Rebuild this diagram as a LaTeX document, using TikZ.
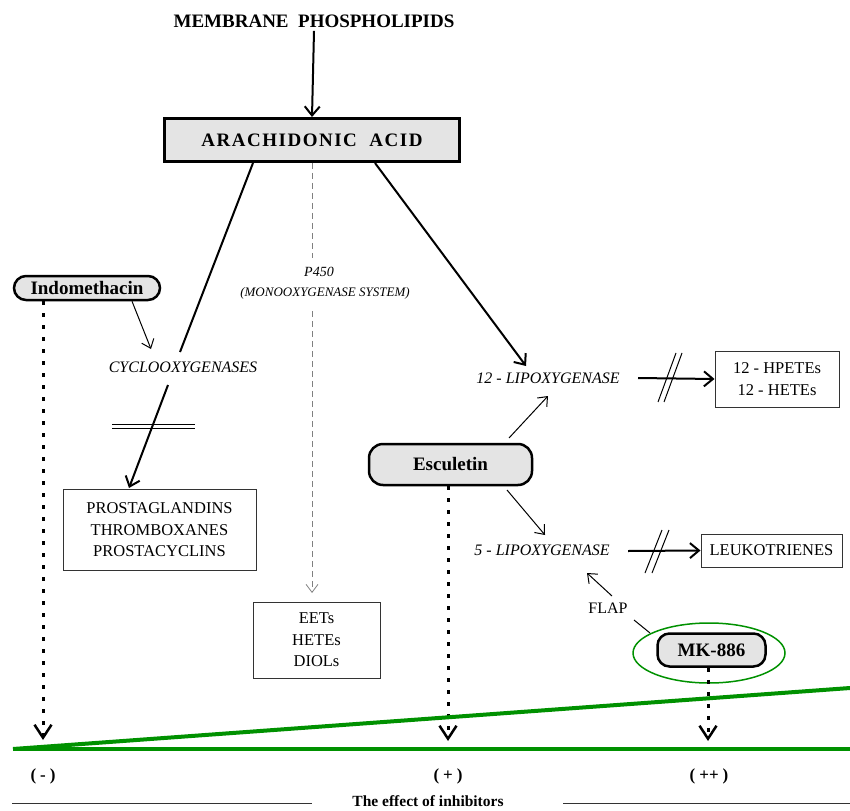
\documentclass[tikz,border=0pt]{standalone}
\usepackage{fontspec}
\setmainfont{Liberation Serif}
\usetikzlibrary{arrows.meta,shapes.geometric}
\definecolor{grn}{RGB}{0,145,0}
\definecolor{boxfill}{RGB}{228,228,228}
\begin{document}
\begin{tikzpicture}[x=1pt,y=-1pt,
  bfont/.style={font=\bfseries\fontsize{19}{22}\selectfont},
  rfont/.style={font=\fontsize{16.5}{21.5}\selectfont},
  ifont/.style={font=\itshape\fontsize{16}{20}\selectfont},
  prodbox/.style={draw=black!80, line width=1pt, rfont, align=center, inner sep=0pt},
  inhib/.style={draw, line width=2.5pt, fill=boxfill, rounded corners=12pt, bfont, inner sep=0pt},
  thickline/.style={line width=2pt},
  thickarrow/.style={line width=2pt, -{Straight Barb[length=9pt,width=15pt]}},
  thinarrow/.style={line width=1pt, -{Straight Barb[length=8pt,width=13pt]}},
  dotline/.style={line width=3pt, dash pattern=on 4pt off 8pt, -{Straight Barb[length=13pt,width=17pt,line width=2.5pt]}},
  dashline/.style={gray, line width=0.8pt, dash pattern=on 6pt off 4pt},
  breakmark/.style={line width=1pt},
  greenline/.style={grn, line width=4pt},
  lbl/.style={font=\bfseries\fontsize{17}{20}\selectfont},
  efflbl/.style={font=\bfseries\fontsize{15.5}{18}\selectfont}
]
\useasboundingbox (0,0) rectangle (850,810);

% top
\node[bfont] (mp) at (314,21) {MEMBRANE\ \ PHOSPHOLIPIDS};
\node[draw, line width=3pt, fill=boxfill, minimum width=295pt, minimum height=43pt, inner sep=0pt,
      font=\bfseries\fontsize{19}{22}\selectfont\addfontfeature{LetterSpace=8}] (aa) at (312,140) {ARACHIDONIC\ \ ACID};
\draw[thickarrow] (mp.south) -- (aa.north);

% P450 branch
\node[font=\itshape\fontsize{14}{16}\selectfont] (p450) at (319,272) {P450};
\node[font=\itshape\fontsize{13}{15}\selectfont] (mono) at (325,293) {(MONOOXYGENASE SYSTEM)};
\node[prodbox, minimum width=127pt, minimum height=76pt] (eets) at (316.5,640) {EETs\\HETEs\\DIOLs};
\coordinate (d1) at (312,258);
\coordinate (d2) at (312,311);
\coordinate (d3) at (312,593);
\draw[dashline] (aa.south) -- (d1);
\draw[dashline, -{Straight Barb[length=8pt,width=12pt]}] (d2) -- (d3);

% cyclooxygenase branch
\node[ifont] (cox) at (183,367) {CYCLOOXYGENASES};
\node[prodbox, minimum width=193pt, minimum height=81pt] (pg) at (159.5,530) {PROSTAGLANDINS\\THROMBOXANES\\PROSTACYCLINS};
\coordinate (c2) at (180,352);
\coordinate (c3) at (168,385);
\coordinate (c4) at (129,488);
\draw[thickline] ([xshift=-59pt]aa.south) -- (c2);
\draw[thickarrow] (c3) -- (c4);
\coordinate (b1) at (112,424);
\coordinate (b2) at (195,424);
\coordinate (b3) at (112,428);
\coordinate (b4) at (195,428);
\draw[breakmark] (b1) -- (b2);
\draw[breakmark] (b3) -- (b4);

% Indomethacin
\node[inhib, minimum width=146pt, minimum height=24pt] (indo) at (87,288) {Indomethacin};
\coordinate (i1) at (151,349);
\draw[thinarrow] ([xshift=45pt]indo.south) -- (i1);
\coordinate (m1) at (43,740);
\draw[dotline] ([xshift=-44pt]indo.south) -- (m1);

% 12-lipoxygenase branch
\node[ifont] (lox12) at (548,378) {12 - LIPOXYGENASE};
\node[prodbox, minimum width=124pt, minimum height=56pt, font=\fontsize{16.5}{22}\selectfont] (hp) at (777,379) {12 - HPETEs\\12 - HETEs};
\coordinate (l1) at (526,366);
\draw[thickarrow] ([xshift=63pt]aa.south) -- (l1);
\coordinate (h0) at (638,378);
\draw[thickarrow] (h0) -- (hp.west);
\coordinate (k1) at (658,402);
\coordinate (k2) at (676,353);
\coordinate (k3) at (664,402);
\coordinate (k4) at (682,353);
\draw[breakmark] (k1) -- (k2);
\draw[breakmark] (k3) -- (k4);

% Esculetin
\node[inhib, minimum width=163pt, minimum height=41pt, rounded corners=14pt] (esc) at (450.5,464.5) {Esculetin};
\coordinate (e1) at (509,438);
\coordinate (e2) at (548,396);
\coordinate (e3) at (507,490);
\coordinate (e4) at (545,535);
\draw[thinarrow] (e1) -- (e2);
\draw[thinarrow] (e3) -- (e4);
\coordinate (m2) at (448,741);
\draw[dotline] (esc.south -| m2) -- (m2);

% 5-lipoxygenase branch
\node[ifont] (lox5) at (542,550) {5 - LIPOXYGENASE};
\node[prodbox, minimum width=141pt, minimum height=33pt] (lt) at (771.5,550.5) {LEUKOTRIENES};
\coordinate (f0) at (628,551);
\draw[thickarrow] (f0) -- (lt.west);
\coordinate (q1) at (645,573);
\coordinate (q2) at (662,530);
\coordinate (q3) at (652,573);
\coordinate (q4) at (669,530);
\draw[breakmark] (q1) -- (q2);
\draw[breakmark] (q3) -- (q4);

% FLAP and MK-886
\node[rfont, font=\fontsize{16}{19}\selectfont] (flap) at (608,608) {FLAP};
\node[inhib, minimum width=108pt, minimum height=33pt] (mk) at (711.5,650) {MK-886};
\draw[grn, line width=1.5pt] (709,653) ellipse [x radius=76pt, y radius=30pt];
\coordinate (fa) at (612,596);
\coordinate (fb) at (587,573);
\draw[thinarrow] (fa) -- (fb);
\coordinate (fc) at (634,620);
\coordinate (fd) at (650,633);
\draw[line width=1pt] (fc) -- (fd);
\coordinate (m3) at (708,741);
\draw[dotline] (mk.south -| m3) -- (m3);

% scale lines
\coordinate (g0) at (13,749);
\coordinate (g1) at (850,749);
\coordinate (g2) at (850,688);
\draw[black!55, line width=1pt] (15,747) -- (850,747);
\draw[greenline] (g0) -- (g1);
\draw[greenline] (g0) -- (g2);

\node[lbl] (minus) at (43,776) {(\hspace{4pt}-\hspace{4pt})};
\node[lbl] (plus) at (448,776) {(\hspace{4pt}+\hspace{4pt})};
\node[lbl] (pp) at (709,776) {(\hspace{4pt}++\hspace{4pt})};

\node[efflbl] (eff) at (428,801) {The effect of inhibitors};
\coordinate (x0) at (12,803);
\coordinate (x1) at (312,803);
\coordinate (x2) at (563,803);
\coordinate (x3) at (850,803);
\draw[line width=1pt, black!80] (x0) -- (x1);
\draw[line width=1pt, black!80] (x2) -- (x3);
\end{tikzpicture}
\end{document}
